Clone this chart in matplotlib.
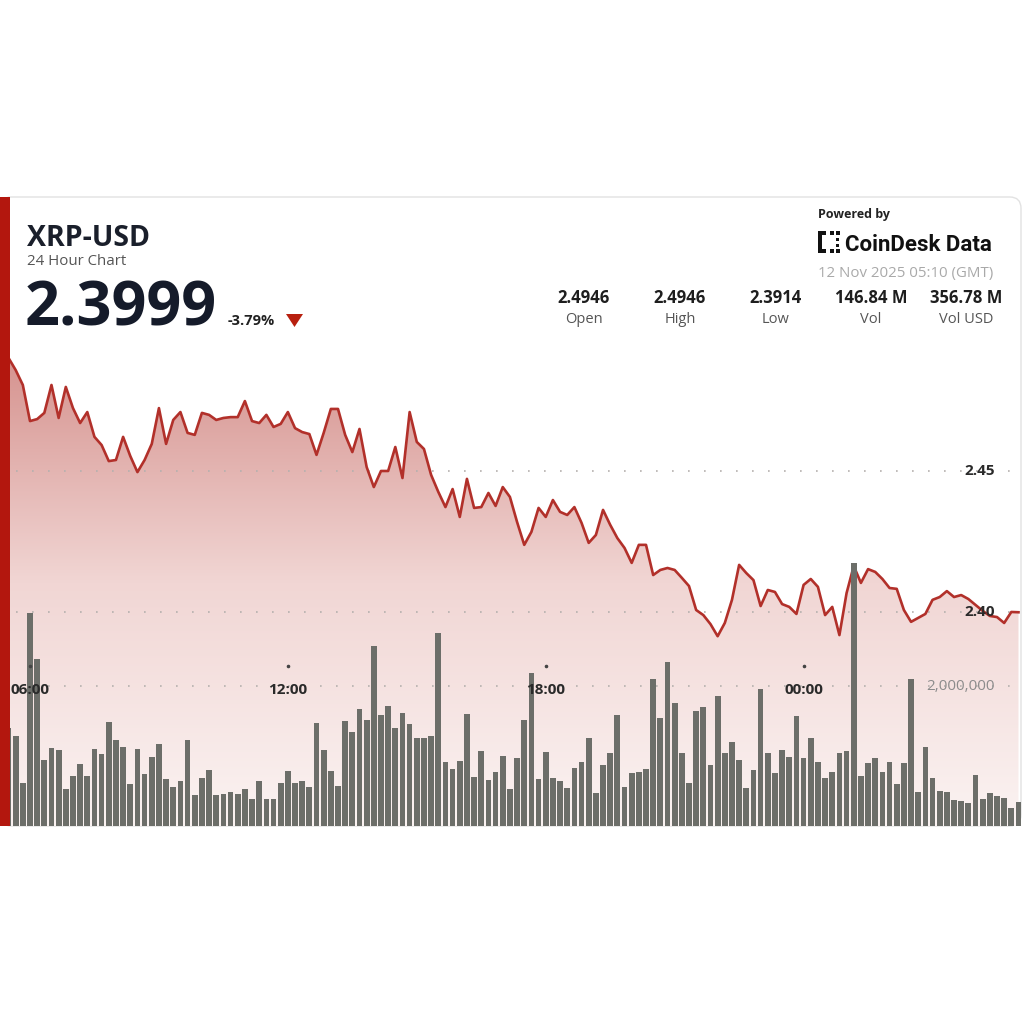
import numpy as np
import pandas as pd
import matplotlib
matplotlib.use('Agg')
import matplotlib.pyplot as plt
import matplotlib.dates as mdates
import matplotlib.transforms as mtransforms
from matplotlib.patches import FancyBboxPatch, Rectangle, Polygon
from matplotlib.colors import LinearSegmentedColormap

# 10-minute closes, 11 Nov 05:10 -> 12 Nov 05:00 (GMT)
prices = [
    2.4946, 2.4936,
    2.4901, 2.4858, 2.4805, 2.4677, 2.4684, 2.4706, 2.4805, 2.4688, 2.4798, 2.4723,
    2.4670, 2.4709, 2.4621, 2.4592, 2.4535, 2.4539, 2.4621, 2.4553, 2.4496, 2.4539,
    2.4596, 2.4723, 2.4596, 2.4681, 2.4709, 2.4635, 2.4628, 2.4706, 2.4699, 2.4681,
    2.4688, 2.4691, 2.4691, 2.4748, 2.4677, 2.4670, 2.4699, 2.4656, 2.4667, 2.4709,
    2.4652, 2.4638, 2.4631, 2.4557, 2.4635, 2.4720, 2.4720, 2.4628, 2.4567, 2.4649,
    2.4514, 2.4443, 2.4500, 2.4500, 2.4585, 2.4475, 2.4709, 2.4603, 2.4578, 2.4486,
    2.4426, 2.4372, 2.4436, 2.4337, 2.4472, 2.4369, 2.4372, 2.4422, 2.4376, 2.4443,
    2.4408, 2.4319, 2.4238, 2.4284, 2.4369, 2.4337, 2.4397, 2.4355, 2.4344, 2.4372,
    2.4316, 2.4245, 2.4273, 2.4362, 2.4309, 2.4262, 2.4227, 2.4174, 2.4238, 2.4238,
    2.4131, 2.4149, 2.4156, 2.4149, 2.4121, 2.4092, 2.4007, 2.3989, 2.3957, 2.3914,
    2.3961, 2.4043, 2.4167, 2.4138, 2.4113, 2.4021, 2.4078, 2.4071, 2.4028, 2.4018,
    2.3993, 2.4096, 2.4117, 2.4089, 2.3989, 2.4018, 2.3918, 2.4067, 2.4163, 2.4103,
    2.4152, 2.4142, 2.4117, 2.4085, 2.4082, 2.4007, 2.3965, 2.3979, 2.3993, 2.4043,
    2.4053, 2.4074, 2.4053, 2.4060, 2.4046, 2.4025, 2.4004, 2.3986, 2.3982, 2.3961,
    2.4000, 2.3999,
]

# volume per 10-minute bar, millions of XRP
volumes_m = [
    1.45, 1.25,
    1.40, 1.29, 0.61, 3.04, 2.39, 0.94, 1.11, 1.09, 0.53, 0.71,
    0.89, 0.71, 1.10, 1.03, 1.49, 1.23, 1.13, 0.60, 1.10, 0.74,
    0.99, 1.17, 0.67, 0.56, 0.64, 1.23, 0.44, 0.69, 0.80, 0.44,
    0.46, 0.49, 0.46, 0.53, 0.39, 0.64, 0.39, 0.39, 0.61, 0.79,
    0.61, 0.64, 0.56, 1.47, 1.09, 0.79, 0.57, 1.50, 1.34, 1.67,
    1.51, 2.57, 1.59, 1.71, 1.40, 1.61, 1.46, 1.26, 1.26, 1.29,
    2.76, 0.91, 0.81, 0.93, 1.60, 0.70, 1.07, 0.66, 0.77, 1.00,
    0.53, 0.97, 1.51, 2.19, 0.67, 1.06, 0.69, 0.64, 0.54, 0.83,
    0.91, 1.26, 0.47, 0.87, 1.04, 1.59, 0.56, 0.76, 0.77, 0.81,
    2.10, 1.54, 2.34, 1.76, 1.04, 0.61, 1.64, 1.70, 0.87, 1.86,
    1.04, 1.20, 0.94, 0.54, 0.80, 1.96, 1.04, 0.76, 1.09, 0.99,
    1.57, 0.97, 1.26, 0.91, 0.69, 0.77, 1.04, 1.07, 3.76, 0.71,
    0.90, 0.97, 0.77, 0.91, 0.60, 0.90, 2.10, 0.49, 1.13, 0.69,
    0.50, 0.49, 0.37, 0.36, 0.33, 0.73, 0.39, 0.47, 0.43, 0.40,
    0.26, 0.34,
]

tick_times = ['2025-11-11 06:00', '2025-11-11 12:00', '2025-11-11 18:00', '2025-11-12 00:00']
tick_labels = ['06:00', '12:00', '18:00', '00:00']
price_ticks = [2.45, 2.40]
price_tick_labels = ['2.45', '2.40']
vol_ticks = [2_000_000]
vol_tick_labels = ['2,000,000']

stat_values = ['2.4946', '2.4946', '2.3914', '146.84 M', '356.78 M']
stat_labels = ['Open', 'High', 'Low', 'Vol', 'Vol USD']

times = pd.date_range('2025-11-11 05:10', periods=len(prices), freq='10min')
x = mdates.date2num(times)
volumes = np.array(volumes_m) * 1e6

W = 1024


def fx(px):
    return px / W


def fy(py):
    return 1 - py / W


fig = plt.figure(figsize=(10.24, 10.24), dpi=100)
fig.patch.set_facecolor('white')

# card outline
card = FancyBboxPatch((fx(0), fy(826)), fx(1021), (826 - 197) / W,
                      boxstyle='round,pad=0,rounding_size=0.011',
                      transform=fig.transFigure, facecolor='none',
                      edgecolor='#e2e2e2', lw=1.0, zorder=-1)
fig.patches.append(card)

# chart area
rect = [fx(0), fy(826), fx(1022), (826 - 340) / W]
ax = fig.add_axes(rect)
ax2 = fig.add_axes(rect)
for a in (ax, ax2):
    a.set_facecolor('none')
    a.set_axis_off()

step = 10 / 1440
xmin = x[0] + 0.813 * step
xmax = x[0] + 143.49 * step
pmin, pmax = 2.3241, 2.49645

# gradient area under price line
poly = ax.fill_between(x, prices, pmin, facecolor='none', edgecolor='none')
grad = np.linspace(1, 0, 256).reshape(-1, 1)
cmap = LinearSegmentedColormap.from_list('xrp_fill', ['#fbf3f2', '#f1d6d4', '#d48e8a'])
img = ax.imshow(grad, cmap=cmap, aspect='auto', origin='upper',
                extent=[xmin, xmax, pmin, pmax], zorder=1, interpolation='bilinear')
img.set_clip_path(poly.get_paths()[0], transform=ax.transData)

for p in price_ticks:
    ax.axhline(p, color='#b5b0ae', lw=1.2, ls=(0, (1, 8.6)), zorder=2)
ax.plot(x, prices, color='#b2302a', lw=1.9, zorder=3, solid_joinstyle='round')
ax.set_xlim(xmin, xmax)
ax.set_ylim(pmin, pmax)

# volume bars
ax2.bar(x, volumes, width=0.8 * step, color='#6c6e69', zorder=2)
for v in vol_ticks:
    ax2.axhline(v, color='#b5b0ae', lw=1.2, ls=(0, (1, 8.6)), zorder=1)
ax2.set_xlim(xmin, xmax)
ax2.set_ylim(0, 486 / 70 * 1e6)

# time labels inside the chart
xt = ax2.get_xaxis_transform()
tick_x = mdates.date2num(pd.to_datetime(tick_times))
ax2.scatter(tick_x, [0.329] * len(tick_x), transform=xt, s=2.5, color='#444444', zorder=4)
for tx, lab in zip(tick_x, tick_labels):
    ax2.text(tx, 0.2798, lab, transform=xt, ha='center', va='center',
             fontsize=11, fontweight='bold', family='Open Sans', color='#2a2a2a', zorder=5)

# right-side value labels
bt = mtransforms.blended_transform_factory(ax2.transAxes, ax.transData)
for p, lab in zip(price_ticks, price_tick_labels):
    ax2.text(995 / 1022, p, lab, transform=bt, ha='right', va='center',
             fontsize=11, fontweight='bold', family='Open Sans', color='#2a2a2a', zorder=5)
bt2 = mtransforms.blended_transform_factory(ax2.transAxes, ax2.transData)
for v, lab in zip(vol_ticks, vol_tick_labels):
    ax2.text(995 / 1022, v, lab, transform=bt2, ha='right', va='center',
             fontsize=11, family='Open Sans', color='#8c8c8c', zorder=5)

# red left edge of the card
fig.patches.append(Rectangle((fx(0), fy(826)), fx(10), (826 - 197) / W,
                             transform=fig.transFigure, facecolor='#b3170e',
                             edgecolor='none', zorder=5))

# header, left
fig.text(fx(27), fy(246), 'XRP-USD', fontsize=20.5, fontweight='bold',
         family='Open Sans', color='#1a1f2b', va='baseline')
fig.text(fx(27), fy(265), '24 Hour Chart', fontsize=10.8,
         family='Open Sans', color='#555555', va='baseline')
fig.text(fx(25), fy(326), '2.3999', fontsize=44, fontweight='bold',
         family='Open Sans', color='#151b2a', va='baseline')
fig.text(fx(228), fy(325), '-3.79%', fontsize=10.5, fontweight='bold',
         family='Open Sans', color='#222222', va='baseline')
fig.patches.append(Polygon([(fx(286), fy(314)), (fx(303), fy(314)), (fx(294.5), fy(327))],
                           closed=True, transform=fig.transFigure,
                           facecolor='#b8200f', edgecolor='none'))

# header, right
fig.text(fx(818), fy(218), 'Powered by', fontsize=9, fontweight='bold',
         family='Open Sans', color='#222222', va='baseline')
logo = [(818, 231, 4, 22), (822, 231, 4, 4), (830, 231, 4, 4), (836, 231, 4, 4),
        (822, 249, 4, 4), (830, 249, 4, 4), (836, 249, 4, 4),
        (836, 238, 3, 3), (836, 244, 3, 3)]
for lx, ly, lw_, lh in logo:
    fig.patches.append(Rectangle((fx(lx), fy(ly + lh)), lw_ / W, lh / W,
                                 transform=fig.transFigure, facecolor='#111111',
                                 edgecolor='none'))
fig.text(fx(845), fy(251), 'CoinDesk Data', fontsize=16, fontweight='bold',
         family='Roboto', color='#111111', va='baseline')
fig.text(fx(818), fy(277), '12 Nov 2025 05:10 (GMT)', fontsize=10.8,
         family='Open Sans', color='#a9a9a9', va='baseline')

stat_x = [584, 680, 776, 871, 966]
for sx, val, lab in zip(stat_x, stat_values, stat_labels):
    fig.text(fx(sx), fy(303), val, fontsize=12, fontweight='bold', family='Open Sans',
             color='#1e1e1e', ha='center', va='baseline')
    fig.text(fx(sx), fy(323), lab, fontsize=10.5, family='Open Sans',
             color='#555555', ha='center', va='baseline')

fig.savefig('out.png', dpi=100, facecolor='white')
